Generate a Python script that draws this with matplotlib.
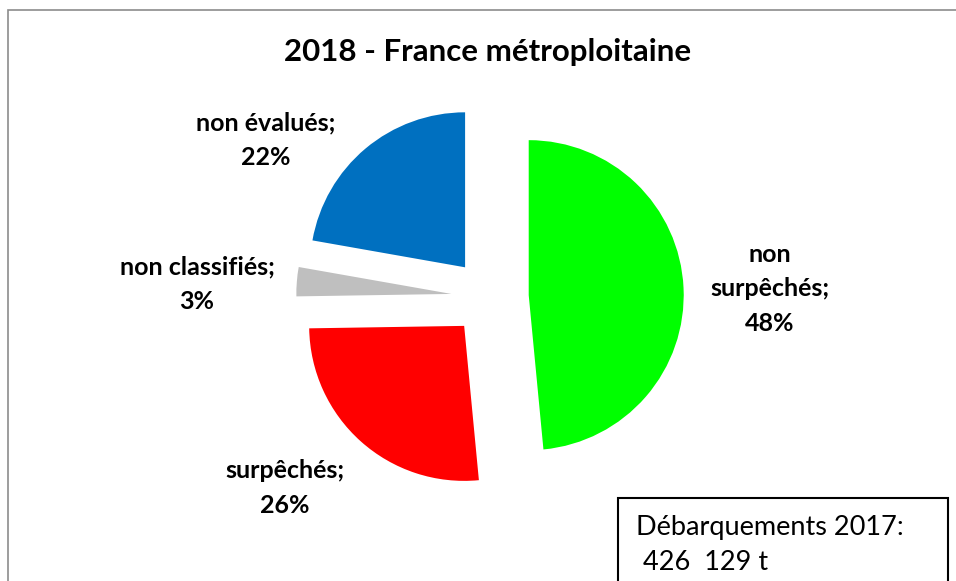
import matplotlib.pyplot as plt
from matplotlib.patches import Rectangle

labels = ["non\nsurpêchés;", "surpêchés;", "non classifiés;", "non évalués;"]
values = [48, 26, 3, 22]
colors = ["#00ff00", "#ff0000", "#bfbfbf", "#0070c0"]
explode = [0.25, 0.25, 0.25, 0.25]

title = "2018 - France métroploitaine"
box_lines = ["Débarquements 2017:", " 426  129 t"]

W, H = 956, 581
R = 155.0          # pie radius in pixels
CX, CY = 490, 297  # pie centre, pixels from top-left

plt.rcParams['font.family'] = ['Lato', 'DejaVu Sans']

fig = plt.figure(figsize=(W / 100, H / 100), dpi=100)
ax = fig.add_axes([0, 0, 1, 1])
ax.pie(values, colors=colors, explode=explode, startangle=90, counterclock=False,
       radius=1, wedgeprops=dict(linewidth=0))
ax.set_xlim(-CX / R, (W - CX) / R)
ax.set_ylim(-(H - CY) / R, CY / R)
ax.set_aspect('auto')
ax.axis('off')


def px(x, y):
    return x / W, 1 - y / H


# outer chart border (cropped at right/bottom)
fig.patches.append(Rectangle(px(8, 700), (1000 - 8) / W, (700 - 10) / H,
                             transform=fig.transFigure, fill=False,
                             edgecolor='#8c8c8c', linewidth=1.2))

fig.text(*px(488, 52), title, ha='center', va='center', fontsize=22.5, fontweight='bold')

# slice labels: label text then percent
label_pos = [(770, 289), (285, 488), (197, 284), (266, 140)]
for lab, v, (x, y) in zip(labels, values, label_pos):
    fig.text(*px(x, y), f"{lab}\n{v}%", ha='center', va='center', fontsize=18,
             fontweight='bold', linespacing=1.62)

# landings box
fig.patches.append(Rectangle(px(618, 700), (948 - 618) / W, (700 - 498) / H,
                             transform=fig.transFigure, fill=False,
                             edgecolor='black', linewidth=1.5))
fig.text(*px(636, 528), box_lines[0], ha='left', va='center', fontsize=19.5)
fig.text(*px(636, 563), box_lines[1], ha='left', va='center', fontsize=19.5)

fig.savefig('out.png', dpi=100)
